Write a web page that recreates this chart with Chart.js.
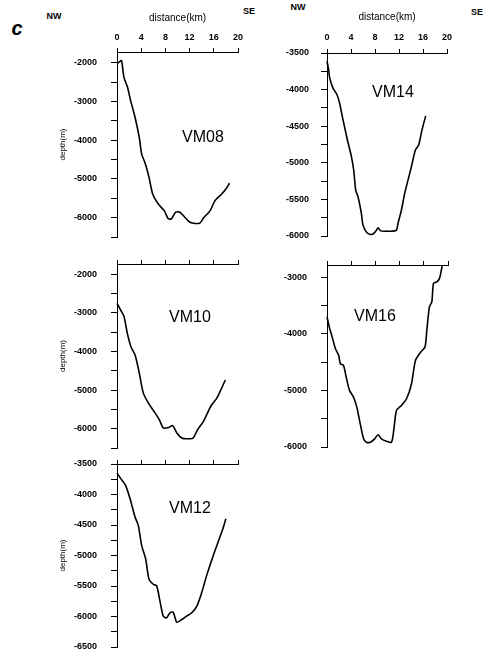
<!DOCTYPE html>
<html><head><meta charset="utf-8">
<script src="https://cdn.jsdelivr.net/npm/chart.js@4"></script>
<style>
html,body{margin:0;padding:0;background:#fff}
body{width:485px;height:653px;overflow:hidden;position:relative;font-family:"Liberation Sans",Arial,sans-serif;color:#000}
canvas{position:absolute}
.t{position:absolute;transform:translate(-50%,-50%);white-space:nowrap;line-height:1;-webkit-font-smoothing:antialiased}
</style></head>
<body>
<div class="t" style="left:17px;top:28px;font-size:20px;font-weight:bold;font-style:italic">c</div>
<div class="t" style="left:54px;top:16px;font-size:9px;font-weight:bold">NW</div>
<div class="t" style="left:249px;top:11px;font-size:9px;font-weight:bold">SE</div>
<div class="t" style="left:298px;top:7px;font-size:9px;font-weight:bold">NW</div>
<div class="t" style="left:477px;top:12px;font-size:9px;font-weight:bold">SE</div>
<script>
// ---- data ----
const xTicks = [0, 4, 8, 12, 16, 20];

const vm08Km = [0, 0.4, 0.75, 1.15, 1.75, 2.25, 2.98, 3.68, 4.08, 4.68, 5.29, 5.9, 6.83, 7.8, 8.48, 9.0, 9.7, 10.4, 11.2, 12.07, 12.9, 13.7, 14.4, 15.4, 16.2, 17.3, 18.0, 18.6];
const vm08Depth = [-2020, -1980, -1950, -2380, -2640, -2980, -3410, -3930, -4360, -4610, -4960, -5390, -5650, -5820, -6030, -6030, -5860, -5860, -5990, -6120, -6150, -6140, -5990, -5820, -5560, -5390, -5260, -5110];

const vm10Km = [0, 0.6, 1.16, 1.7, 2.3, 2.98, 3.68, 4.35, 5.2, 6.1, 7.0, 7.65, 8.5, 9.2, 9.9, 10.7, 11.8, 12.6, 13.3, 14.3, 15.5, 16.5, 17.3, 17.9];
const vm10Depth = [-2756, -2930, -3100, -3530, -3880, -4090, -4560, -5080, -5340, -5550, -5770, -5980, -5970, -5920, -6110, -6240, -6260, -6240, -6030, -5810, -5420, -5210, -4950, -4740];

const vm12Km = [0, 0.6, 1.4, 2.15, 2.98, 3.52, 4.08, 4.74, 5.29, 6.0, 6.56, 7.1, 7.65, 8.2, 8.76, 9.3, 9.87, 10.7, 11.5, 12.35, 13.2, 14.0, 14.8, 15.9, 16.7, 17.5, 18.0];
const vm12Depth = [-3650, -3736, -3846, -4066, -4370, -4507, -4838, -5058, -5388, -5471, -5498, -5747, -5995, -6022, -5939, -5929, -6094, -6050, -5995, -5939, -5829, -5608, -5334, -5003, -4782, -4562, -4397];

const vm14Km = [0, 0.28, 0.45, 1.0, 1.67, 2.1, 2.67, 3.4, 4.07, 4.45, 4.78, 5.17, 5.73, 6.0, 6.56, 7.23, 7.78, 8.23, 8.5, 8.95, 9.9, 11.0, 11.57, 11.83, 12.4, 12.95, 13.5, 14.07, 14.73, 15.28, 15.83, 16.45];
const vm14Depth = [-3615, -3729, -3843, -3979, -4071, -4185, -4414, -4688, -4916, -5099, -5373, -5464, -5692, -5852, -5944, -5979, -5966, -5921, -5889, -5930, -5934, -5934, -5921, -5829, -5647, -5418, -5236, -5053, -4825, -4756, -4551, -4359];

const vm16Km = [0, 0.38, 0.93, 1.38, 1.93, 2.2, 2.72, 3.17, 3.72, 4.38, 4.93, 5.38, 6.05, 6.5, 7.17, 7.88, 8.43, 9.0, 9.83, 10.65, 11.03, 11.48, 12.3, 13.15, 13.97, 14.63, 15.5, 16.2, 16.5, 16.93, 17.33, 17.6, 18.17, 18.6, 18.9, 19.05];
const vm16Depth = [-3698, -3876, -4082, -4259, -4378, -4525, -4555, -4762, -4998, -5117, -5294, -5530, -5855, -5915, -5915, -5855, -5784, -5855, -5897, -5915, -5707, -5353, -5264, -5146, -4880, -4466, -4319, -4230, -3935, -3521, -3433, -3106, -3077, -3017, -2870, -2790];

const profileNames = ['VM08', 'VM10', 'VM12', 'VM14', 'VM16'];
const xTitle = 'distance(km)';
const yTitle = 'depth(m)';

// ---- layout ----
const panels = [
  {name: profileNames[0], km: vm08Km, depth: vm08Depth, yMin: -6500, yMax: -1725, step: 500, major: 1000,
   area: [117, 52, 238, 237], xLabels: true, xTitlePad: 5.5, xTickPad: 5, yTitle: true, yPad: 14, label: [203, 137]},
  {name: profileNames[1], km: vm10Km, depth: vm10Depth, yMin: -6500, yMax: -1740, step: 500, major: 1000,
   area: [117, 264, 238, 448], xLabels: false, yTitle: true, yPad: 14, label: [190, 317]},
  {name: profileNames[2], km: vm12Km, depth: vm12Depth, yMin: -6500, yMax: -3500, step: 250, major: 500,
   area: [117, 464, 238, 647], xLabels: false, yTitle: true, yPad: 14, label: [190, 508]},
  {name: profileNames[3], km: vm14Km, depth: vm14Depth, yMin: -6000, yMax: -3500, step: 250, major: 500,
   area: [327, 53, 447, 236], xLabels: true, xTitlePad: 3.5, xTickPad: 6, yTitle: false, yPad: 12, label: [393, 92]},
  {name: profileNames[4], km: vm16Km, depth: vm16Depth, yMin: -6000, yMax: -2780, step: 500, major: 1000,
   area: [327, 265, 448, 447], xLabels: false, yTitle: false, yPad: 14, label: [375, 316]},
];

const YW = 65, PR = 22, PB = 12;
const FONT = '"Liberation Sans", Arial, sans-serif';

panels.forEach(p => {
  const [l, t, r, b] = p.area;
  const XH = p.xLabels ? 45 : 12;
  const cv = document.createElement('canvas');
  const W = YW + (r - l) + PR, H = XH + (b - t) + PB;
  cv.width = W; cv.height = H;
  cv.style.left = (l - YW) + 'px';
  cv.style.top = (t - XH) + 'px';
  cv.style.width = W + 'px'; cv.style.height = H + 'px';
  document.body.appendChild(cv);

  const lbl = document.createElement('div');
  lbl.className = 't';
  lbl.textContent = p.name;
  lbl.style.left = p.label[0] + 'px';
  lbl.style.top = p.label[1] + 'px';
  lbl.style.fontSize = '16px';
  document.body.appendChild(lbl);

  new Chart(cv, {
    type: 'line',
    data: {
      datasets: [{
        data: p.km.map((k, i) => ({x: k, y: p.depth[i]})),
        borderColor: '#000', borderWidth: 1.6, pointRadius: 0, tension: 0.25,
        fill: false, clip: false
      }]
    },
    options: {
      responsive: false, animation: false, devicePixelRatio: 1,
      layout: {padding: {left: 0, top: 0, right: PR, bottom: PB}},
      plugins: {legend: {display: false}, tooltip: {enabled: false}},
      scales: {
        x: {
          type: 'linear', position: 'top', min: 0, max: 20,
          afterBuildTicks: s => { s.ticks = xTicks.map(v => ({value: v})); },
          ticks: {
            display: p.xLabels, padding: p.xTickPad || 5, color: '#000', maxRotation: 0, autoSkip: false,
            font: {family: FONT, size: 9, weight: 'bold'},
            callback: v => String(v)
          },
          grid: {drawOnChartArea: false, drawTicks: true, tickLength: 4, tickColor: '#000', tickWidth: 1},
          border: {display: true, color: '#000', width: 1},
          title: {display: p.xLabels, text: xTitle, color: '#000',
                  font: {family: FONT, size: 10}, padding: {top: p.xTitlePad || 0, bottom: 0}},
          afterFit: s => { s.height = XH; s.paddingLeft = 0; s.paddingRight = 0; }
        },
        y: {
          type: 'linear', position: 'left', min: p.yMin, max: p.yMax,
          afterBuildTicks: s => {
            const ts = [];
            for (let v = Math.ceil(p.yMin / p.step) * p.step; v <= p.yMax; v += p.step) ts.push({value: v});
            s.ticks = ts;
          },
          ticks: {
            autoSkip: false, padding: p.yPad, color: '#000',
            font: {family: FONT, size: 9, weight: 'bold'},
            callback: v => (Math.abs(Math.round(v) % p.major) === 0 ? String(Math.round(v)) : '')
          },
          grid: {drawOnChartArea: false, drawTicks: true, tickLength: 6, tickColor: '#000', tickWidth: 1},
          border: {display: true, color: '#000', width: 1},
          title: {display: p.yTitle, text: yTitle, color: '#000',
                  font: {family: FONT, size: 8}, padding: {top: 6, bottom: 0}},
          afterFit: s => { s.width = YW; s.paddingTop = 0; s.paddingBottom = 0; }
        }
      }
    }
  });
});
</script>
</body></html>
